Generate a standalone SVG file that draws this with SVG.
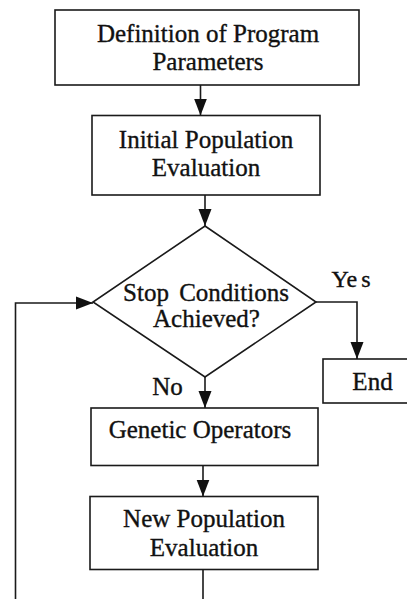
<svg xmlns="http://www.w3.org/2000/svg" width="407" height="599" viewBox="0 0 407 599">
<style>
.box{fill:#fff;stroke:#1a1a1a;stroke-width:1.6}
.ln{fill:none;stroke:#1a1a1a;stroke-width:1.6}
text{font-family:"Liberation Serif","Times New Roman",serif;font-size:25px;fill:#111;stroke:#111;stroke-width:0.35;text-anchor:middle}
</style>
<defs>
<marker id="ah" markerUnits="userSpaceOnUse" markerWidth="17" markerHeight="14" refX="17" refY="7" orient="auto">
<path d="M0,0.5 L17,7 L0,13.5 z" fill="#111"/>
</marker>
</defs>
<rect width="407" height="599" fill="#fff"/>
<g id="n1">
<rect class="box" x="55" y="10" width="304" height="75"/>
<text x="208" y="41.5">Definition of Program</text>
<text x="208" y="70">Parameters</text>
</g>
<g id="n2">
<rect class="box" x="92" y="115.5" width="228" height="79.5"/>
<text x="206" y="147.5">Initial Population</text>
<text x="206" y="175.5">Evaluation</text>
</g>
<g id="n3">
<polygon class="box" points="205,226 316,302 205,377 93,302"/>
<text x="206" y="300.5" word-spacing="4">Stop Conditions</text>
<text x="206.5" y="326.5">Achieved?</text>
</g>
<g id="n4">
<rect class="box" x="323" y="359" width="90" height="44"/>
<text x="372.5" y="390">End</text>
</g>
<g id="n5">
<rect class="box" x="91" y="408" width="227" height="57.5"/>
<text x="200" y="438">Genetic Operators</text>
</g>
<g id="n6">
<rect class="box" x="90" y="496.5" width="228" height="73"/>
<text x="204" y="527">New Population</text>
<text x="204" y="556">Evaluation</text>
</g>
<g id="connectors">
<path class="ln" d="M200.5,85 V115.5" marker-end="url(#ah)"/>
<path class="ln" d="M205,195 V226" marker-end="url(#ah)"/>
<path class="ln" d="M316,302 H357 V359" marker-end="url(#ah)"/>
<path class="ln" d="M205,377 V408" marker-end="url(#ah)"/>
<path class="ln" d="M203,465.5 V496.5" marker-end="url(#ah)"/>
<path class="ln" d="M203,569.5 V612 H15.5 V303 H93" marker-end="url(#ah)"/>
<text x="351" y="287" style="font-size:24px">Ye<tspan dx="4">s</tspan></text>
<text x="167.5" y="395">No</text>
</g>
</svg>
